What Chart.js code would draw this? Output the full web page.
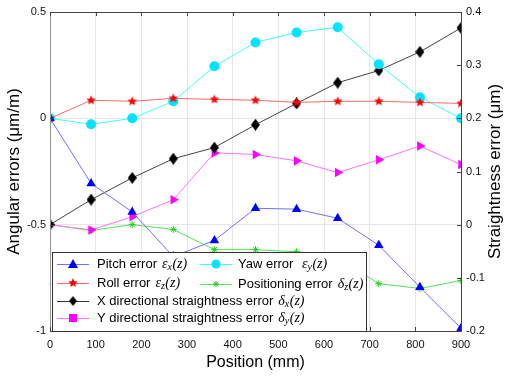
<!DOCTYPE html>
<html>
<head>
<meta charset="utf-8">
<script src="https://cdn.jsdelivr.net/npm/chart.js@4"></script>
<style>
  html, body { margin: 0; padding: 0; background: #fff; }
  #wrap { width: 507px; height: 376px; }
</style>
</head>
<body>
<div id="wrap"><canvas id="myChart" width="507" height="376"></canvas></div>
<script>
// positions along the axis (mm)
const positions = [0, 90, 180, 270, 360, 450, 540, 630, 720, 810, 900];

// angular errors (left axis, μm/m)
const pitchError = [0, -0.306, -0.44, -0.65, -0.574, -0.423, -0.427, -0.47, -0.597, -0.794, -0.987];
const rollError  = [0, 0.085, 0.08, 0.094, 0.089, 0.085, 0.075, 0.08, 0.08, 0.075, 0.07];
const yawError   = [0, -0.028, 0.0, 0.08, 0.245, 0.357, 0.404, 0.428, 0.254, 0.099, 0.0];

// straightness / positioning errors (right axis, μm)
const xStraightness = [0, 0.047, 0.088, 0.124, 0.145, 0.188, 0.228, 0.267, 0.29, 0.325, 0.37];
const yStraightness = [0, -0.01, 0.015, 0.047, 0.135, 0.132, 0.12, 0.098, 0.122, 0.148, 0.113];
const positioningError = [0, -0.011, 0.0, -0.009, -0.047, -0.047, -0.051, -0.062, -0.111, -0.12, -0.105];

const xTicks = [0, 100, 200, 300, 400, 500, 600, 700, 800, 900];

function pts(vals) {
    return vals.map((v, i) => ({ x: positions[i], y: v }));
}

// filled five point star used for the roll error markers
function starCanvas(color, r) {
    const c = document.createElement('canvas');
    c.width = c.height = r * 2 + 2;
    const g = c.getContext('2d');
    g.fillStyle = color;
    g.beginPath();
    for (let i = 0; i < 10; i++) {
        const rr = i % 2 === 0 ? r : r * 0.45;
        const a = -Math.PI / 2 + i * Math.PI / 5;
        g.lineTo(r + 1 + rr * Math.cos(a), r + 1 + rr * Math.sin(a));
    }
    g.closePath();
    g.fill();
    return c;
}

// tall diamond for X straightness
function diamondCanvas(color, w, h) {
    const c = document.createElement('canvas');
    c.width = w; c.height = h;
    const g = c.getContext('2d');
    g.fillStyle = color;
    g.beginPath();
    g.moveTo(w / 2, 0);
    g.lineTo(w, h / 2);
    g.lineTo(w / 2, h);
    g.lineTo(0, h / 2);
    g.closePath();
    g.fill();
    return c;
}

const redStar = starCanvas('#ff0000', 5);
const blackDiamond = diamondCanvas('#000000', 9, 12);

const ctx = document.getElementById('myChart');

// inward ticks, box around the plot, right axis title
const frame = {
    id: 'frame',
    afterDatasetsDraw(chart) {
        const { ctx, chartArea: a, scales } = chart;
        ctx.save();
        ctx.lineWidth = 1;
        ctx.strokeStyle = '#444';
        ctx.beginPath();
        ctx.moveTo(a.left, a.top + 0.5); ctx.lineTo(a.right + 0.5, a.top + 0.5);
        ctx.lineTo(a.right + 0.5, a.bottom + 0.5); ctx.lineTo(a.left, a.bottom + 0.5);
        ctx.stroke();
        ctx.strokeStyle = '#999';
        ctx.beginPath();
        ctx.moveTo(a.left + 0.5, a.top); ctx.lineTo(a.left + 0.5, a.bottom);
        ctx.stroke();
        ctx.strokeStyle = '#444';
        ctx.beginPath();
        xTicks.forEach(t => {
            const px = Math.round(scales.x.getPixelForValue(t)) + 0.5;
            ctx.moveTo(px, a.top); ctx.lineTo(px, a.top + 4);
            ctx.moveTo(px, a.bottom); ctx.lineTo(px, a.bottom - 4);
        });
        [0.5, 0, -0.5, -1].forEach(t => {
            const py = Math.round(scales.y.getPixelForValue(t)) + 0.5;
            ctx.moveTo(a.left, py); ctx.lineTo(a.left + 4, py);
        });
        [0.4, 0.3, 0.2, 0.1, 0, -0.1, -0.2].forEach(t => {
            const py = Math.round(scales.y1.getPixelForValue(t)) + 0.5;
            ctx.moveTo(a.right, py); ctx.lineTo(a.right - 4, py);
        });
        ctx.stroke();

        // right title reads bottom to top, like the left one
        ctx.translate(495, (a.top + a.bottom) / 2);
        ctx.rotate(-Math.PI / 2);
        ctx.fillStyle = '#000';
        ctx.font = '17px "Liberation Sans", Arial, sans-serif';
        ctx.textAlign = 'center';
        ctx.textBaseline = 'middle';
        ctx.fillText('Straightness error (μm)', 0, 0);
        ctx.restore();
    }
};

const SANS = '13px "Liberation Sans", Arial, sans-serif';
const SERIF_I = 'italic 14px "Liberation Serif", "DejaVu Serif", serif';
const SERIF_SUB = 'italic 10px "Liberation Serif", "DejaVu Serif", serif';

function drawLabel(g, x, y, text, sym, sub) {
    g.font = SANS;
    g.fillText(text, x, y);
    x += g.measureText(text).width + 5;
    g.font = SERIF_I;
    g.fillText(sym, x, y);
    x += g.measureText(sym).width;
    g.font = SERIF_SUB;
    g.fillText(sub, x, y + 3);
    x += g.measureText(sub).width + 0.5;
    g.font = SERIF_I;
    g.fillText('(z)', x, y);
}

function drawMarker(g, kind, x, y, color) {
    g.save();
    g.fillStyle = color;
    g.strokeStyle = color;
    g.beginPath();
    if (kind === 'triangle') {
        g.moveTo(x, y - 5); g.lineTo(x + 5, y + 4); g.lineTo(x - 5, y + 4); g.closePath(); g.fill();
    } else if (kind === 'circle') {
        g.arc(x, y, 4.5, 0, Math.PI * 2); g.fill();
    } else if (kind === 'star') {
        g.drawImage(redStar, x - redStar.width / 2, y - redStar.height / 2);
    } else if (kind === 'diamond') {
        g.drawImage(blackDiamond, x - 4, y - 5, 8, 10);
    } else if (kind === 'square') {
        g.fillRect(x - 4, y - 4, 8, 8);
    } else if (kind === 'asterisk') {
        g.lineWidth = 1;
        for (let i = 0; i < 4; i++) {
            const a = i * Math.PI / 4;
            g.moveTo(x - 3 * Math.cos(a), y - 3 * Math.sin(a));
            g.lineTo(x + 3 * Math.cos(a), y + 3 * Math.sin(a));
        }
        g.stroke();
    }
    g.restore();
}

const legendBox = {
    id: 'legendBox',
    afterDraw(chart) {
        const g = chart.ctx;
        g.save();
        g.fillStyle = '#fff';
        g.fillRect(52, 252, 314, 79);
        g.strokeStyle = '#333';
        g.lineWidth = 1;
        g.strokeRect(52.5, 252.5, 314, 79);
        const entries = [
            { x: 57, y: 264, line: '#7070ff', mk: 'triangle', mc: '#0000ff', text: 'Pitch error', sym: 'ε', sub: 'x' },
            { x: 200, y: 264, line: '#40ffff', mk: 'circle', mc: '#00e5ff', text: 'Yaw error ', sym: 'ε', sub: 'y' },
            { x: 57, y: 283, line: '#ff6a6a', mk: 'star', mc: '#ff0000', text: 'Roll error', sym: 'ε', sub: 'z' },
            { x: 200, y: 284, line: '#55e055', mk: 'asterisk', mc: '#22cc22', text: 'Positioning error', sym: 'δ', sub: 'z' },
            { x: 57, y: 301, line: '#333333', mk: 'diamond', mc: '#000000', text: 'X directional straightness error', sym: 'δ', sub: 'x' },
            { x: 57, y: 318, line: '#ff70ff', mk: 'square', mc: '#ff00ff', text: 'Y directional straightness error', sym: 'δ', sub: 'y' }
        ];
        entries.forEach(e => {
            g.strokeStyle = e.line;
            g.beginPath();
            g.moveTo(e.x, e.y + 0.5); g.lineTo(e.x + 32, e.y + 0.5);
            g.stroke();
            drawMarker(g, e.mk, e.x + 16, e.y, e.mc);
            g.fillStyle = '#000';
            g.textBaseline = 'middle';
            drawLabel(g, e.x + (e.x === 57 ? 40 : 38), e.y, e.text, e.sym, e.sub);
        });
        g.restore();
    }
};

const tickFont = { family: '"Liberation Sans", Arial, sans-serif', size: 11 };
const titleFont = { family: '"Liberation Sans", Arial, sans-serif', size: 17 };
const fmt = v => String(+Number(v).toFixed(1));

new Chart(ctx, {
    type: 'line',
    data: {
        datasets: [{
            label: 'Pitch error',
            data: pts(pitchError),
            yAxisID: 'y',
            borderColor: '#7070ff',
            backgroundColor: '#0000ff',
            borderWidth: 1,
            pointStyle: 'triangle',
            pointRadius: 5.5,
            pointBorderWidth: 0
        }, {
            label: 'Roll error',
            data: pts(rollError),
            yAxisID: 'y',
            borderColor: '#ff6a6a',
            backgroundColor: '#ff0000',
            borderWidth: 1,
            pointStyle: redStar
        }, {
            label: 'Yaw error',
            data: pts(yawError),
            yAxisID: 'y',
            borderColor: '#40ffff',
            backgroundColor: '#00e5ff',
            borderWidth: 1,
            pointStyle: 'circle',
            pointRadius: 5,
            pointBorderWidth: 0
        }, {
            label: 'X directional straightness error',
            data: pts(xStraightness),
            yAxisID: 'y1',
            borderColor: '#444444',
            backgroundColor: '#000000',
            borderWidth: 1,
            pointStyle: blackDiamond
        }, {
            label: 'Y directional straightness error',
            data: pts(yStraightness),
            yAxisID: 'y1',
            borderColor: '#ff70ff',
            backgroundColor: '#ff00ff',
            borderWidth: 1,
            pointStyle: 'triangle',
            pointRotation: 90,
            pointRadius: 5.5,
            pointBorderWidth: 0
        }, {
            label: 'Positioning error',
            data: pts(positioningError),
            yAxisID: 'y1',
            borderColor: '#55e055',
            backgroundColor: '#22cc22',
            borderWidth: 1,
            pointStyle: 'star',
            pointRadius: 3.5,
            pointBorderColor: '#22cc22',
            pointBorderWidth: 1
        }]
    },
    options: {
        responsive: false,
        animation: false,
        layout: { padding: { top: 12 } },
        plugins: {
            legend: { display: false },
            tooltip: { enabled: false }
        },
        scales: {
            x: {
                type: 'linear',
                min: 0,
                max: 900,
                afterBuildTicks: s => { s.ticks = xTicks.map(v => ({ value: v })); },
                ticks: { font: tickFont, color: '#111', padding: 7, maxRotation: 0 },
                grid: { color: '#e6e6e6', drawTicks: false },
                border: { display: false },
                title: { display: true, text: 'Position (mm)', font: { ...titleFont, size: 16 }, color: '#000', padding: { top: 0, bottom: 4 } },
                afterFit: s => { s.height = 45; }
            },
            y: {
                position: 'left',
                min: -1,
                max: 0.5,
                ticks: { stepSize: 0.5, font: tickFont, color: '#111', padding: 4, callback: fmt },
                grid: { color: '#e6e6e6', drawTicks: false },
                border: { display: false },
                title: { display: true, text: 'Angular errors (μm/m)', font: titleFont, color: '#000', padding: { top: 4, bottom: 0 } },
                afterFit: s => { s.width = 50; }
            },
            y1: {
                position: 'right',
                min: -0.2,
                max: 0.4,
                ticks: { stepSize: 0.1, font: tickFont, color: '#111', padding: 5, callback: fmt },
                grid: { display: false, drawTicks: false },
                border: { display: false },
                afterFit: s => { s.width = 46; }
            }
        }
    },
    plugins: [frame, legendBox]
});
</script>
</body>
</html>
